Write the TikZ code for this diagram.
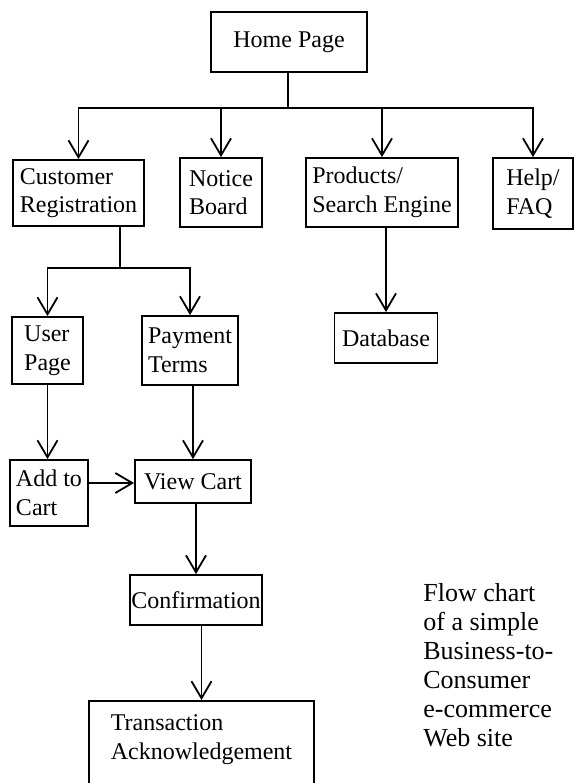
\documentclass[tikz,border=0pt]{standalone}
\usepackage{fontspec}
\setmainfont{Liberation Serif}
\usepackage{tikz}
\usetikzlibrary{arrows.meta,calc,positioning}
\tikzset{
    >={Straight Barb[length=8.5pt,width=10pt]},
    boks/.style={
           rectangle,
           draw=black, line width=0.9pt,
           inner sep=0pt,
           align=left,
           font=\fontsize{12}{14.3}\selectfont},
    pil/.style={
           ->,
           line width=0.9pt}
}
\begin{document}
\begin{tikzpicture}[x=0.5pt, y=-0.5pt]
        \clip (0,0) rectangle (574,783);
        \node[boks, minimum width=78pt, minimum height=30pt] (home) at (289,42) {Home Page};
        \node[boks, minimum width=65.5pt, minimum height=33pt] (custreg) at (78.5,193) {Customer\\Registration};
        \node[boks, minimum width=41pt, minimum height=34.5pt] (notice) at (221,192.5) {Notice\\Board};
        \node[boks, minimum width=76pt, minimum height=34.5pt] (products) at (382,192.5) {Products/\\Search Engine};
        \node[boks, minimum width=40pt, minimum height=35.5pt] (help) at (533,193.5) {Help/\\FAQ};
        \node[boks, minimum width=35.5pt, minimum height=33.5pt] (user) at (47.5,350.5) {User\\Page};
        \node[boks, minimum width=48pt, minimum height=34.5pt] (payment) at (190,350.5) {Payment\\Terms};
        \node[boks, minimum width=51.5pt, minimum height=25pt] (database) at (386,338) {Database};
        \node[boks, minimum width=39pt, minimum height=33pt] (addcart) at (49,493) {Add to\\Cart};
        \node[boks, minimum width=58pt, minimum height=21.5pt] (viewcart) at (193,481.5) {View Cart};
        \node[boks, minimum width=66pt, minimum height=25pt] (confirm) at (196,600) {Confirmation};
        \node[boks, anchor=north, minimum width=112.5pt, inner ysep=7pt, text depth=30pt] (trans) at (201.5,700) {Transaction\\Acknowledgement};
        \node[anchor=north west, inner sep=0pt, align=left, font=\fontsize{13}{14.5}\selectfont] (caption) at (423,583) {Flow chart\\of a simple\\Business-to-\\Consumer\\e-commerce\\Web site};
        % home page to the four sections
        \coordinate (hub) at (288,108);
        \draw[line width=0.9pt] (home.south -| hub) -- (hub);
        \draw[pil] (hub) -| (custreg.north);
        \draw[pil] (hub) -| (notice.north);
        \draw[pil] (hub) -| (products.north);
        \draw[pil] (hub) -| (help.north);
        % registration branches
        \coordinate (split) at (120,268);
        \draw[line width=0.9pt] (custreg.south -| split) -- (split);
        \draw[pil] (split) -| (user.north);
        \draw[pil] (split) -| (payment.north);
        \draw[pil] (products.south -| database.north) -- (database.north);
        \draw[pil] (user.south) -- (user.south |- addcart.north);
        \draw[pil] (payment.south -| viewcart.north) -- (viewcart.north);
        \draw[pil] (addcart.east |- 0,483) -- (viewcart.west |- 0,483);
        \draw[pil] (viewcart.south -| confirm.north) -- (confirm.north);
        \draw[pil] (confirm.south -| trans.north) -- (trans.north);
    \end{tikzpicture}
\end{document}
